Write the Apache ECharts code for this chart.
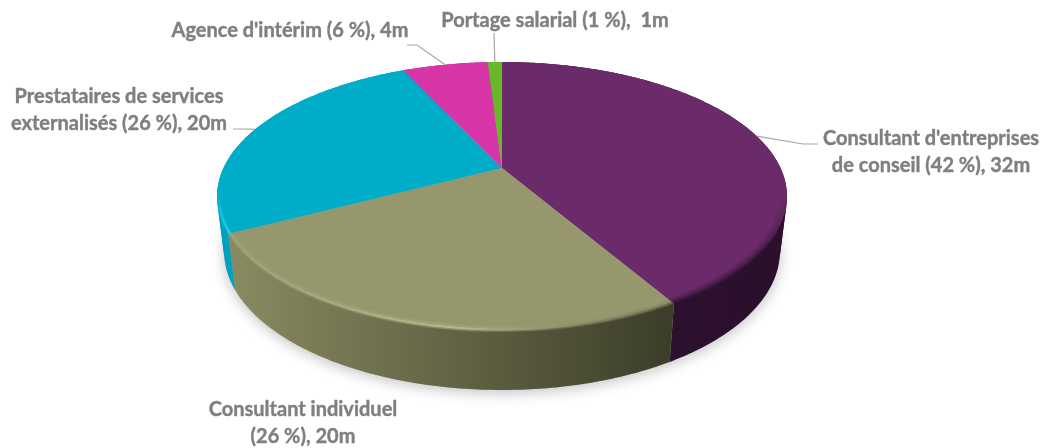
<!DOCTYPE html>
<html>
<head>
<meta charset="utf-8">
<style>html,body{margin:0;padding:0;background:#fff;overflow:hidden}#chart{width:1047px;height:448px}</style>
<script src="https://cdn.jsdelivr.net/npm/echarts@6/dist/echarts.min.js"></script>
</head>
<body>
<div id="chart"></div>
<script>
// Répartition des dépenses par type de prestataire (en millions)
const categories = ["Consultant d'entreprises de conseil", 'Consultant individuel', 'Prestataires de services externalisés', "Agence d'intérim", 'Portage salarial'];
const shares = [42, 26, 26, 6, 1];
const amounts = [32, 20, 20, 4, 1];
const labelTexts = [
  "Consultant d'entreprises\nde conseil (42 %), 32m",
  'Consultant individuel\n(26 %), 20m',
  'Prestataires de services\nexternalisés (26 %), 20m',
  "Agence d'intérim (6 %), 4m",
  'Portage salarial (1 %),  1m'
];

// Slice appearance
const topColors = ['#6b2a69', '#97976d', '#00adc8', '#d835a9', '#67b82a'];
const wallStops = [
  ['#2f1231', '#2a0f2b'],
  ['#8a8b61', '#3b3d29'],
  ['#00a2c1', '#0090ad'],
  ['#b02a8a', '#b02a8a'],
  ['#559a22', '#559a22']
];

// Bevel strokes along the rim: radius ratio, width, gradient span and colour stops
const bevels = [
  [
    { r: 0.998, w: 2.5, vertical: true, p0: 198, p1: 250, stops: ['rgba(42,15,43,0)', 'rgba(42,15,43,0.85)'] },
    { r: 0.988, w: 2.5, vertical: true, p0: 198, p1: 250, stops: ['rgba(42,15,43,0)', 'rgba(42,15,43,0.5)'] },
    { r: 0.978, w: 2.5, vertical: true, p0: 198, p1: 250, stops: ['rgba(42,15,43,0)', 'rgba(42,15,43,0.22)'] }
  ],
  [
    { r: 1.0, w: 2, p0: 232, p1: 672, stops: ['rgba(140,140,104,0.4)', 'rgba(140,140,104,0.8)', 'rgba(60,62,42,0.85)'] },
    { r: 0.992, w: 2, p0: 232, p1: 672, stops: ['rgba(176,176,134,0.45)', 'rgba(188,188,146,0.95)', 'rgba(96,96,68,0.8)'] },
    { r: 0.982, w: 2, p0: 232, p1: 672, stops: ['rgba(166,166,122,0.2)', 'rgba(170,170,128,0.6)', 'rgba(130,130,94,0.5)'] }
  ],
  [
    { r: 0.994, w: 2.5, vertical: true, p0: 190, p1: 234, stops: ['rgba(50,205,235,0)', 'rgba(50,205,235,0.95)'] }
  ],
  [], []
];

// Perspective disc: apex, projection scales and depth of the side wall
const view = { cx: 502, cy: 168, a: 278.5, b: 128.5, k: 0.212, dropY: 54, wallX: 0.975, wallY: 1.03 };

// Label anchors and leader routes
const labelPos = [
  { x: 931, y: 152, via: [[803, 144], [818, 144]] },
  { x: 303, y: 423, via: null },
  { x: 119, y: 110, via: [[242, 129], [233, 129]] },
  { x: 290, y: 31, via: [[417, 45], [407, 45]] },
  { x: 555, y: 21, via: [[494, 33]] }
];

const total = shares.reduce((s, v) => s + v, 0);

// Maps an angle (clockwise from the top) and radius ratio to the screen
function topPoint(theta, r) {
  const u = Math.sin(theta) * r, v = -Math.cos(theta) * r;
  const w = 1 - view.k * v;
  return [view.cx + view.a * u / w, view.cy + view.b * v / w];
}
function bottomPoint(theta) {
  const u = Math.sin(theta), v = -Math.cos(theta);
  const w = 1 - view.k * v;
  return [view.cx + view.wallX * view.a * u / w, view.cy + view.dropY + view.wallY * view.b * v / w];
}
function arc(fn, t0, t1, r) {
  const n = Math.max(4, Math.ceil((t1 - t0) * 80));
  const pts = [];
  for (let i = 0; i <= n; i++) pts.push(fn(t0 + (t1 - t0) * i / n, r));
  return pts;
}
function gradient(colors, p0, p1, vertical) {
  const stops = colors.map((color, i) => ({ offset: i / (colors.length - 1), color }));
  return vertical
    ? new echarts.graphic.LinearGradient(0, p0, 0, p1, stops, true)
    : new echarts.graphic.LinearGradient(p0, 0, p1, 0, stops, true);
}

// Cuts the wall band where it folds over at the silhouette, so each piece fills fully
function wallPieces(upper, lower) {
  const side = s => {
    const ax = upper[s + 1][0] - upper[s][0], ay = upper[s + 1][1] - upper[s][1];
    const bx = lower[s][0] - upper[s][0], by = lower[s][1] - upper[s][1];
    return ax * by - ay * bx >= 0;
  };
  const pieces = [];
  let from = 0;
  for (let s = 1; s <= upper.length - 1; s++) {
    if (s === upper.length - 1 || side(s) !== side(from)) {
      pieces.push(upper.slice(from, s + 1).concat(lower.slice(from, s + 1).reverse()));
      from = s;
    }
  }
  return pieces;
}

function renderSlice(params, api) {
  const i = params.dataIndex;
  const share = api.value(0);
  const before = shares.slice(0, i).reduce((s, v) => s + v, 0);
  const t0 = before / total * Math.PI * 2;
  const t1 = (before + share) / total * Math.PI * 2;
  const tm = (t0 + t1) / 2;
  const children = [];

  // Soft ground shadow under the whole disc
  if (i === 0) {
    children.push({
      type: 'polygon', z2: 1, silent: true,
      shape: { points: arc(bottomPoint, 0, Math.PI * 2) },
      style: { fill: '#b0b0b0', shadowColor: 'rgba(0,0,0,0.24)', shadowBlur: 14, shadowOffsetY: 3 }
    });
  }

  // Side wall
  const wallTop = arc(topPoint, t0, t1, 1);
  const wallBottom = arc(bottomPoint, t0, t1);
  const xs = wallTop.map(p => p[0]);
  const wallFill = gradient(wallStops[i], Math.min.apply(null, xs), Math.max.apply(null, xs));
  wallPieces(wallTop, wallBottom).forEach(points => {
    children.push({
      type: 'polygon', z2: 2, silent: true,
      shape: { points },
      style: { fill: wallFill }
    });
  });

  // Upper face
  children.push({
    type: 'polygon', z2: 3, silent: true,
    shape: { points: [topPoint(0, 0)].concat(wallTop) },
    style: { fill: topColors[i] }
  });

  // Bevel along the rim, only on the side facing the viewer
  const rimFrom = Math.max(t0, Math.PI * 0.42), rimTo = Math.min(t1, Math.PI * 1.58);
  if (rimTo > rimFrom) {
    bevels[i].forEach(b => {
      children.push({
        type: 'polyline', z2: 4, silent: true,
        shape: { points: arc(topPoint, rimFrom, rimTo, b.r) },
        style: { fill: 'none', lineWidth: b.w, stroke: gradient(b.stops, b.p0, b.p1, b.vertical) }
      });
    });
  }

  // Leader line and label
  const pos = labelPos[i];
  if (pos.via) {
    children.push({
      type: 'polyline', z2: 5, silent: true,
      shape: { points: [topPoint(tm, 1)].concat(pos.via) },
      style: { fill: 'none', stroke: '#a6a6a6', lineWidth: 1.2 }
    });
  }
  children.push({
    type: 'text', z2: 6, silent: true,
    style: {
      text: labelTexts[i], x: pos.x, y: pos.y,
      align: 'center', verticalAlign: 'middle',
      fontFamily: 'Lato', fontWeight: 'bold', fontSize: 20,
      lineHeight: 27, fill: '#7f7f7f', stroke: '#7f7f7f', lineWidth: 0.4
    }
  });
  return { type: 'group', children };
}

const chart = echarts.init(document.getElementById('chart'), null, { renderer: 'canvas' });
chart.setOption({
  animation: false,
  backgroundColor: '#ffffff',
  series: [{
    type: 'custom',
    coordinateSystem: 'none',
    renderItem: renderSlice,
    data: categories.map((name, i) => ({ name, value: [shares[i], amounts[i]] }))
  }]
});
</script>
</body>
</html>
